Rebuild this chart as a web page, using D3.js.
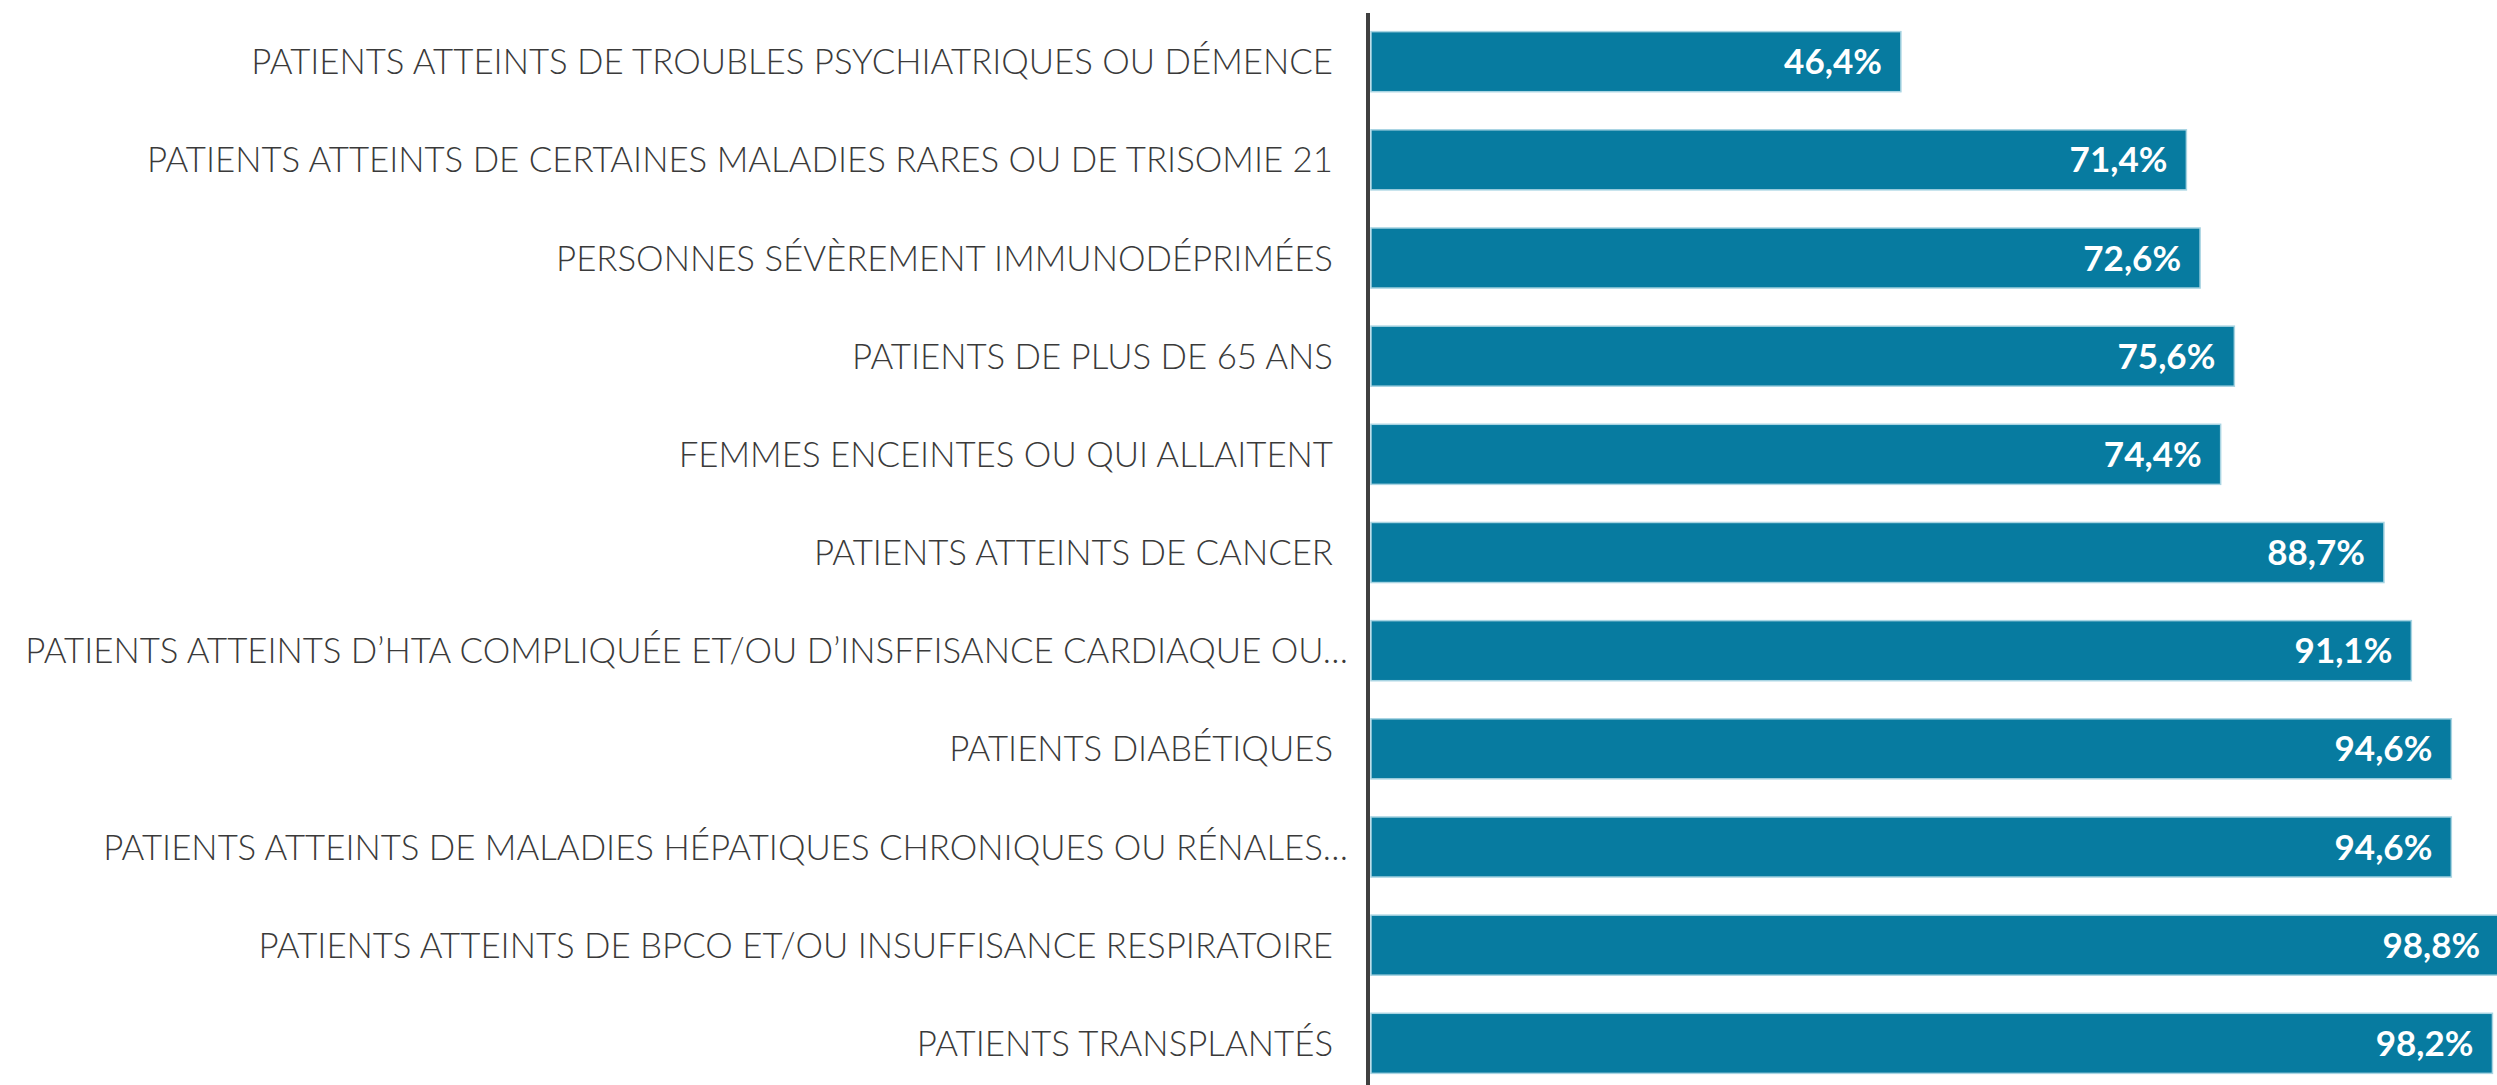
<!DOCTYPE html>
<html>
<head>
<meta charset="utf-8">
<script src="https://cdn.jsdelivr.net/npm/d3@7"></script>
<style>
  body { margin: 0; background: #fff; }
  svg { display: block; }
</style>
</head>
<body>
<svg id="chart" width="2497" height="1085"></svg>
<script>
const svg = d3.select("#chart");
const width = +svg.attr("width");
const height = +svg.attr("height");

// categories, top to bottom
const categories = [
  "PATIENTS ATTEINTS DE TROUBLES PSYCHIATRIQUES OU DÉMENCE",
  "PATIENTS ATTEINTS DE CERTAINES MALADIES RARES OU DE TRISOMIE 21",
  "PERSONNES SÉVÈREMENT IMMUNODÉPRIMÉES",
  "PATIENTS DE PLUS DE 65 ANS",
  "FEMMES ENCEINTES OU QUI ALLAITENT",
  "PATIENTS ATTEINTS DE CANCER",
  "PATIENTS ATTEINTS D’HTA COMPLIQUÉE ET/OU D’INSFFISANCE CARDIAQUE OU…",
  "PATIENTS DIABÉTIQUES",
  "PATIENTS ATTEINTS DE MALADIES HÉPATIQUES CHRONIQUES OU RÉNALES…",
  "PATIENTS ATTEINTS DE BPCO ET/OU INSUFFISANCE RESPIRATOIRE",
  "PATIENTS TRANSPLANTÉS"
];
const values = [46.4, 71.4, 72.6, 75.6, 74.4, 88.7, 91.1, 94.6, 94.6, 98.8, 98.2];

const data = categories.map((c, i) => ({ cat: c, val: values[i] }));

const x0 = 1371;
const x = d3.scaleLinear().domain([0, 100]).range([x0, x0 + 1142]);
const y = d3.scaleBand()
  .domain(categories)
  .range([12, 1093])
  .paddingInner(0.388)
  .paddingOuter(0.2);

const fmt = v => d3.format(".1f")(v).replace(".", ",") + "%";

// bars
svg.selectAll(".bar")
  .data(data)
  .enter().append("rect")
  .attr("class", "bar")
  .attr("x", x(0))
  .attr("y", d => y(d.cat))
  .attr("width", d => x(d.val) - x(0))
  .attr("height", y.bandwidth())
  .attr("fill", "#077ba0")
  .attr("stroke", "#a8d4e2")
  .attr("stroke-width", 1.5);

// value labels inside bars
svg.selectAll(".val")
  .data(data)
  .enter().append("text")
  .attr("class", "val")
  .attr("x", d => x(d.val) - 19)
  .attr("y", d => y(d.cat) + y.bandwidth() / 2)
  .attr("dy", "0.36em")
  .attr("text-anchor", "end")
  .attr("fill", "#fff")
  .attr("font-family", "Lato, sans-serif")
  .attr("font-weight", "bold")
  .attr("font-size", 35)
  .text(d => fmt(d.val));

// category labels
svg.selectAll(".cat")
  .data(data)
  .enter().append("text")
  .attr("class", "cat")
  .attr("x", d => d.cat.endsWith("…") ? 1348 : 1333)
  .attr("y", d => y(d.cat) + y.bandwidth() / 2)
  .attr("dy", "0.36em")
  .attr("text-anchor", "end")
  .attr("fill", "#3a3a3a")
  .attr("font-family", "Lato, sans-serif")
  .attr("font-weight", 300)
  .attr("font-size", 34.8)
  .text(d => d.cat);

// vertical axis line
svg.append("line")
  .attr("x1", x(0) - 3).attr("x2", x(0) - 3)
  .attr("y1", 13).attr("y2", height)
  .attr("stroke", "#404040")
  .attr("stroke-width", 4);
</script>
</body>
</html>
